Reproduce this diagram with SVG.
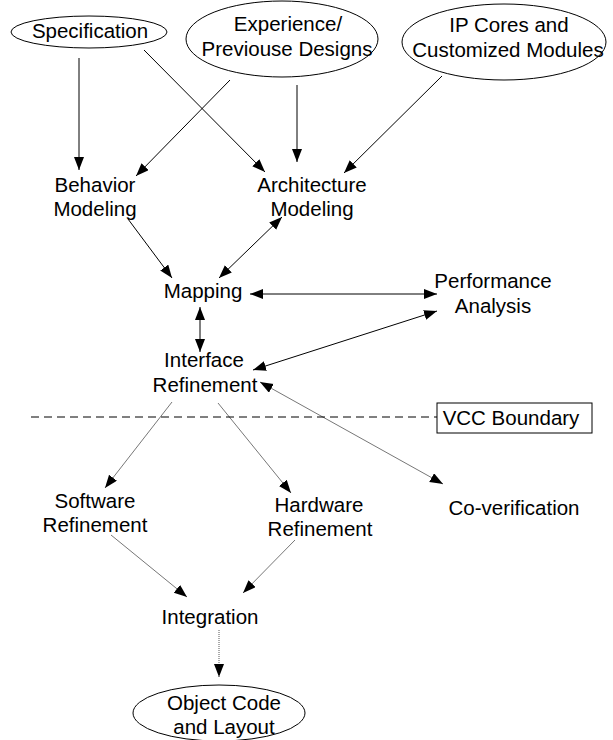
<svg xmlns="http://www.w3.org/2000/svg" width="613" height="740" viewBox="0 0 613 740">
<style>
text{font-family:"Liberation Sans",Arial,sans-serif;font-size:20.5px;fill:#000;text-anchor:middle}
.node ellipse,.node rect{fill:#fff;stroke:#000;stroke-width:1}
.c{stroke:#000;stroke-width:1;fill:none}
.g{stroke:#777;stroke-width:1;fill:none}
.d{stroke:#555;stroke-width:1;fill:none;stroke-dasharray:1 1}
</style>
<defs>
<marker id="ah" markerUnits="userSpaceOnUse" markerWidth="14" markerHeight="11" refX="13" refY="5" orient="auto-start-reverse">
<path d="M0,0 L13,5 L0,10 z" fill="#000"/>
</marker>
</defs>
<rect width="613" height="740" fill="#fff"/>
<g id="connectors">
<path class="c" d="M79,58 L79,170" marker-end="url(#ah)"/>
<path class="c" d="M144,50 L265,172" marker-end="url(#ah)"/>
<path class="c" d="M230,80 L136,176" marker-end="url(#ah)"/>
<path class="c" d="M297,85 L297,162" marker-end="url(#ah)"/>
<path class="c" d="M442,76 L344,173" marker-end="url(#ah)"/>
<path class="c" d="M128,219 L172,278" marker-end="url(#ah)"/>
<path class="c" d="M219,278 L282,217" marker-start="url(#ah)" marker-end="url(#ah)"/>
<path class="c" d="M250,294 L437,294" marker-start="url(#ah)" marker-end="url(#ah)"/>
<path class="c" d="M200,307 L200,352" marker-start="url(#ah)" marker-end="url(#ah)"/>
<path class="c" d="M253,370 L437,311" marker-start="url(#ah)" marker-end="url(#ah)"/>
<path class="g" d="M260,382 L443,484" marker-start="url(#ah)" marker-end="url(#ah)"/>
<path class="g" d="M172,402 L105,488" marker-end="url(#ah)"/>
<path class="g" d="M218,403 L291,493" marker-end="url(#ah)"/>
<path class="g" d="M111,535 L187,597" marker-end="url(#ah)"/>
<path class="g" d="M295,540 L243,593" marker-end="url(#ah)"/>
<path class="d" d="M219,630 L219,677" marker-end="url(#ah)"/>
<path class="c" d="M31,417 L437,417" stroke-dasharray="8 5"/>
</g>
<g id="specification" class="node"><ellipse cx="89" cy="32" rx="78" ry="16"/><text x="90" y="38">Specification</text></g>
<g id="experience" class="node"><ellipse cx="282" cy="39" rx="96" ry="38"/><text x="288" y="31">Experience/</text><text x="287" y="56">Previouse Designs</text></g>
<g id="ipcores" class="node"><ellipse cx="504" cy="42" rx="102" ry="38"/><text x="509" y="32">IP Cores and</text><text x="508" y="57">Customized Modules</text></g>
<g id="behavior" class="node"><text x="95" y="192">Behavior</text><text x="95" y="216">Modeling</text></g>
<g id="architecture" class="node"><text x="312" y="192">Architecture</text><text x="312" y="216">Modeling</text></g>
<g id="mapping" class="node"><text x="203" y="298">Mapping</text></g>
<g id="performance" class="node"><text x="493" y="288">Performance</text><text x="493" y="313">Analysis</text></g>
<g id="interface" class="node"><text x="204" y="367">Interface</text><text x="205" y="392">Refinement</text></g>
<g id="vcc" class="node"><rect x="437" y="403" width="155" height="30"/><text x="511" y="425">VCC Boundary</text></g>
<g id="software" class="node"><text x="95" y="508">Software</text><text x="95" y="532">Refinement</text></g>
<g id="hardware" class="node"><text x="319" y="512">Hardware</text><text x="320" y="536">Refinement</text></g>
<g id="coverification" class="node"><text x="514" y="515">Co-verification</text></g>
<g id="integration" class="node"><text x="210" y="624">Integration</text></g>
<g id="objectcode" class="node"><ellipse cx="219" cy="713" rx="86" ry="28"/><text x="224" y="710">Object Code</text><text x="224" y="734">and Layout</text></g>
</svg>
